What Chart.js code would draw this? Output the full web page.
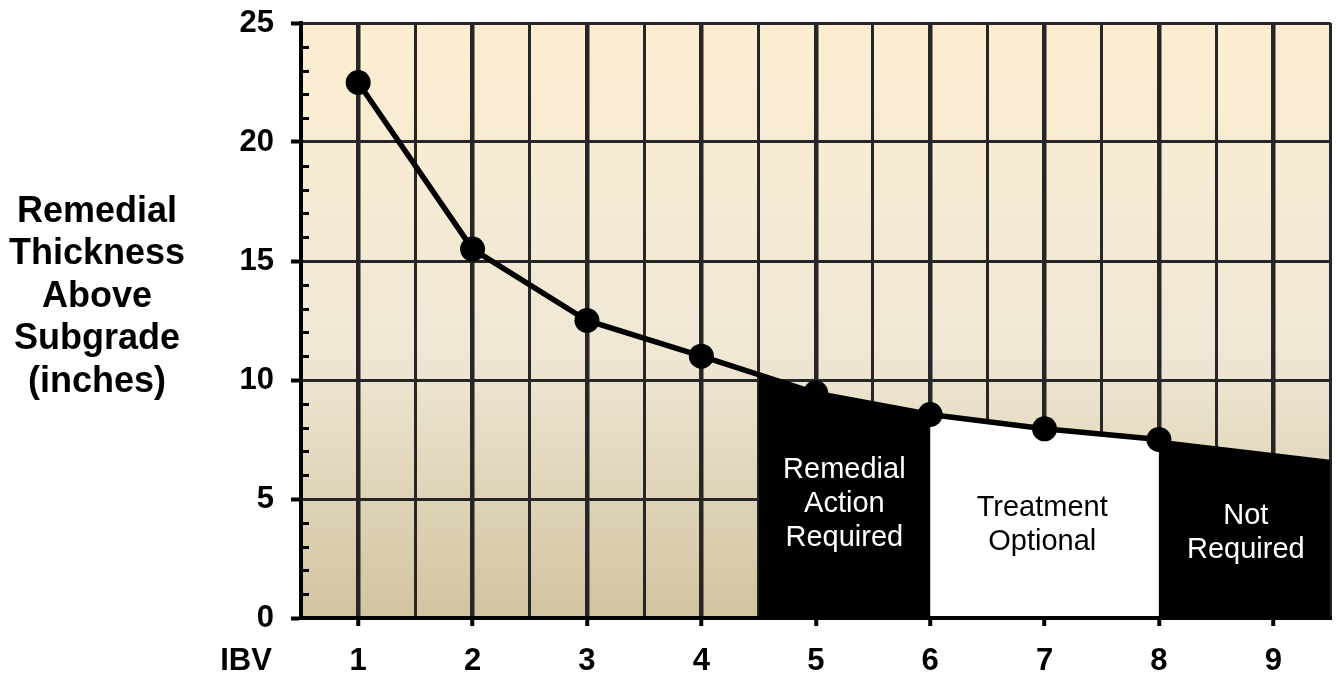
<!DOCTYPE html>
<html>
<head>
<meta charset="utf-8">
<script src="https://cdn.jsdelivr.net/npm/chart.js@4.4.1/dist/chart.umd.min.js"></script>
<style>
  html, body { margin: 0; padding: 0; background: #ffffff; }
  #wrap { width: 1343px; height: 673px; }
</style>
</head>
<body>
<div id="wrap"><canvas id="ibvChart" width="1343" height="673"></canvas></div>
<script>
    // valores
    const ibv = [1, 2, 3, 4, 5, 6, 7, 8];
    const espesor = [22.5, 15.5, 12.5, 11.0, 9.45, 8.55, 7.95, 7.5];

    // zonas sombreadas bajo la curva
    const zonaRemedialX = [4.5, 5, 6];
    const zonaRemedialY = [10.3, 9.45, 8.55];
    const zonaOpcionalX = [6, 7, 8];
    const zonaOpcionalY = [8.55, 7.95, 7.5];
    const zonaNoReqX = [8, 9.5];
    const zonaNoReqY = [7.5, 6.65];

    const ejeY = [0, 5, 10, 15, 20, 25];
    const ejeX = [1, 2, 3, 4, 5, 6, 7, 8, 9];

    const tituloY = ['Remedial', 'Thickness', 'Above', 'Subgrade', '(inches)'];
    const tituloX = 'IBV';

    const etiquetasZonas = [
        { lineas: ['Remedial', 'Action', 'Required'], x: 5.25, y: 4.79, color: '#ffffff' },
        { lineas: ['Treatment', 'Optional'], x: 6.98, y: 3.9, color: '#000000' },
        { lineas: ['Not', 'Required'], x: 8.76, y: 3.57, color: '#ffffff' }
    ];

    const FUENTE = "'Liberation Sans', Arial, sans-serif";

    function puntos(xs, ys) {
        return xs.map((x, i) => ({ x: x, y: ys[i] }));
    }

    function zona(xs, ys, color) {
        return {
            data: puntos(xs, ys),
            fill: 'origin',
            backgroundColor: color,
            borderColor: 'rgba(0,0,0,0)',
            borderWidth: 0,
            pointRadius: 0,
            tension: 0,
            order: 2
        };
    }

    // sin margenes extra por las etiquetas, el area del grafico la fija el padding
    function sinMargen(scale) {
        scale.paddingTop = 0;
        scale.paddingBottom = 0;
        scale.paddingLeft = 0;
        scale.paddingRight = 0;
    }

    const fondoPlugin = {
        id: 'fondo',
        beforeDraw(chart) {
            const { ctx, chartArea: a } = chart;
            const g = ctx.createLinearGradient(0, a.top, 0, a.bottom);
            g.addColorStop(0, '#fdeed2');
            g.addColorStop(0.55, '#efe8d5');
            g.addColorStop(1, '#d3c4a0');
            ctx.save();
            ctx.fillStyle = g;
            ctx.fillRect(a.left, a.top, a.right - a.left, a.bottom - a.top);
            ctx.restore();
        }
    };

    const textosPlugin = {
        id: 'textos',
        afterDraw(chart) {
            const { ctx, chartArea: a, scales } = chart;
            const x = scales.x, y = scales.y;
            ctx.save();

            // ticks menores del eje Y (hacia adentro)
            ctx.strokeStyle = '#000000';
            ctx.lineWidth = 3;
            for (let v = 1; v < 25; v++) {
                if (v % 5 === 0) continue;
                const py = Math.round(y.getPixelForValue(v)) + 0.5;
                ctx.beginPath();
                ctx.moveTo(a.left, py);
                ctx.lineTo(a.left + 8, py);
                ctx.stroke();
            }

            // etiquetas de las zonas
            ctx.font = '29px ' + FUENTE;
            ctx.textAlign = 'center';
            ctx.textBaseline = 'middle';
            etiquetasZonas.forEach(e => {
                const cx = x.getPixelForValue(e.x);
                const cy = y.getPixelForValue(e.y);
                const n = e.lineas.length;
                ctx.fillStyle = e.color;
                e.lineas.forEach((t, i) => {
                    ctx.fillText(t, cx, cy + (i - (n - 1) / 2) * 34);
                });
            });

            // titulo del eje Y, horizontal
            ctx.fillStyle = '#000000';
            ctx.font = 'bold 36px ' + FUENTE;
            tituloY.forEach((t, i) => {
                ctx.fillText(t, 97, 212 + i * 42.5);
            });

            // titulo del eje X
            ctx.font = 'bold 31px ' + FUENTE;
            ctx.fillText(tituloX, 246, 661);
            ctx.restore();
        }
    };

    const data = {
        datasets: [
            {
                data: puntos(ibv, espesor),
                borderColor: '#000000',
                backgroundColor: '#000000',
                borderWidth: 5.5,
                pointRadius: 12.5,
                pointBackgroundColor: '#000000',
                pointBorderWidth: 0,
                fill: false,
                tension: 0,
                order: 0
            },
            zona(zonaRemedialX, zonaRemedialY, '#000000'),
            zona(zonaOpcionalX, zonaOpcionalY, '#ffffff'),
            zona(zonaNoReqX, zonaNoReqY, '#000000')
        ]
    };

    const config = {
        type: 'line',
        data: data,
        options: {
            responsive: false,
            animation: false,
            devicePixelRatio: 1,
            layout: { padding: { left: 0, top: 23, right: 5, bottom: 0 } },
            scales: {
                x: {
                    type: 'linear',
                    min: 0.5,
                    max: 9.5,
                    afterFit: function(scale) {
                        scale.height = 55;
                        sinMargen(scale);
                    },
                    afterBuildTicks: function(scale) {
                        const t = [];
                        for (let v = 0.5; v <= 9.5; v += 0.5) t.push({ value: v });
                        scale.ticks = t;
                    },
                    grid: {
                        color: '#262626',
                        lineWidth: function(c) { return Number.isInteger(c.tick.value) ? 4.5 : 3; },
                        tickColor: function(c) { return Number.isInteger(c.tick.value) ? '#000000' : 'rgba(0,0,0,0)'; },
                        tickWidth: 4,
                        tickLength: 8
                    },
                    border: { display: true, color: '#000000', width: 4, z: 1 },
                    ticks: {
                        autoSkip: false,
                        maxRotation: 0,
                        padding: 17,
                        color: '#000000',
                        font: { family: FUENTE, size: 31, weight: 'bold' },
                        callback: function(value) {
                            return ejeX.includes(value) ? String(value) : '';
                        }
                    }
                },
                y: {
                    min: 0,
                    max: 25,
                    afterFit: function(scale) {
                        scale.width = 301;
                        sinMargen(scale);
                    },
                    ticks: {
                        stepSize: 1,
                        autoSkip: false,
                        padding: 17,
                        color: '#000000',
                        font: { family: FUENTE, size: 31, weight: 'bold' },
                        callback: function(value) {
                            return ejeY.includes(value) ? String(value) : '';
                        }
                    },
                    grid: {
                        color: function(c) { return c.tick.value % 5 === 0 ? '#262626' : 'rgba(0,0,0,0)'; },
                        lineWidth: 3,
                        tickColor: function(c) { return c.tick.value % 5 === 0 ? '#000000' : 'rgba(0,0,0,0)'; },
                        tickWidth: 4,
                        tickLength: 10
                    },
                    border: { display: true, color: '#000000', width: 4, z: 1 }
                }
            },
            plugins: {
                legend: { display: false },
                tooltip: { enabled: false }
            }
        },
        plugins: [fondoPlugin, textosPlugin]
    };

    const ctx = document.getElementById('ibvChart').getContext('2d');
    const chart = new Chart(ctx, config);
</script>
</body>
</html>
